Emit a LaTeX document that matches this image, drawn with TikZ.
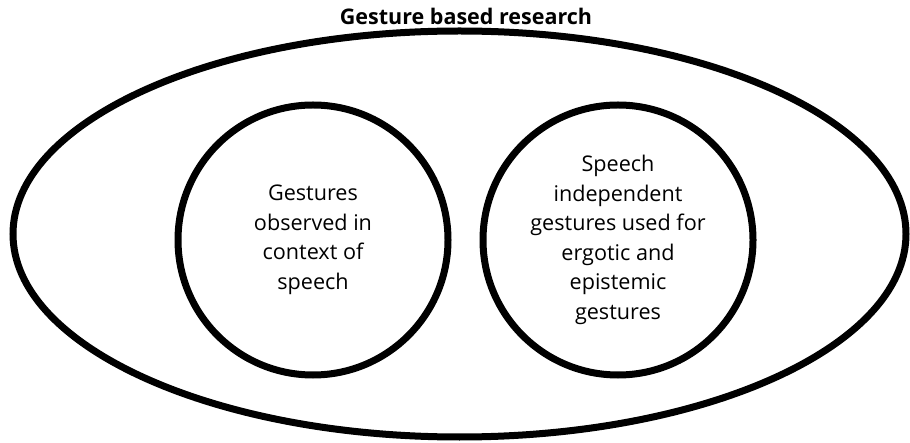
\documentclass[tikz,border=0pt]{standalone}
\usepackage{fontspec}
\setmainfont{Open Sans}
\usetikzlibrary{shapes.geometric}
\tikzset{
  ring/.style={draw=black, line width=7pt, circle, inner sep=0pt, minimum size=270pt,
    align=center, font=\fontsize{21.6}{29.5}\selectfont},
  outerring/.style={draw=black, line width=7pt, ellipse, inner sep=0pt,
    minimum width=893pt, minimum height=406pt},
  titletext/.style={font=\bfseries\fontsize{21.5}{24}\selectfont, anchor=base, inner sep=0pt}
}
\begin{document}
\begin{tikzpicture}[x=1pt,y=-1pt]
\useasboundingbox (0,0) rectangle (910,443);
\node[outerring] (outer) at (459.5,234) {};
\node[titletext] (title) at (466,25) {Gesture based research};
\node[ring] (left) at (313,240) {Gestures\\observed in\\context of\\speech};
\node[ring] (right) at (618,240) {Speech\\independent\\gestures used for\\ergotic and\\epistemic\\gestures};
\end{tikzpicture}
\end{document}
